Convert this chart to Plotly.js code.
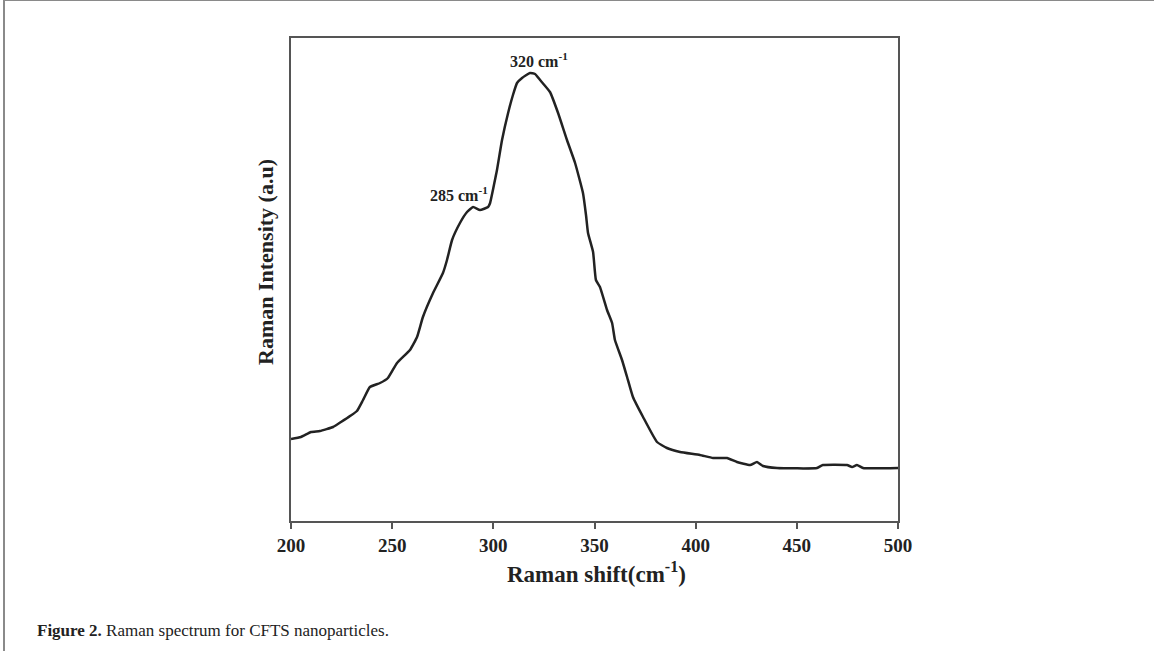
<!DOCTYPE html>
<html>
<head>
<meta charset="utf-8">
<script src="https://cdn.plot.ly/plotly-3.0.1.min.js"></script>
<style>
html,body{margin:0;padding:0;background:#fff;}
#wrap{position:relative;width:1154px;height:651px;overflow:hidden;}
#frame{position:absolute;left:3px;top:0;width:1151px;height:651px;border-left:2px solid #8a8a8a;border-top:1px solid #8a8a8a;box-sizing:border-box;pointer-events:none;z-index:5;}
#chart{position:absolute;left:0;top:0;width:1154px;height:651px;}
</style>
</head>
<body>
<div id="wrap">
<div id="chart"></div>
<div id="frame"></div>
</div>
<script>
// Raman shift (cm^-1)
const ramanShift = [200.0,204.9,209.9,214.3,220.8,224.7,229.2,232.6,235.6,239.0,244.0,247.9,252.4,258.8,262.3,265.2,270.2,275.1,277.1,279.6,283.5,287.0,290.0,293.4,297.4,298.4,299.8,300.8,301.8,304.3,307.3,309.7,311.7,314.2,318.1,320.6,323.1,328.0,332.0,336.4,340.4,344.3,345.8,346.8,349.3,350.7,352.7,356.2,358.7,360.1,363.6,366.1,369.0,374.0,380.9,385.8,392.3,402.1,408.6,415.5,420.4,426.9,430.3,433.3,440.2,460.0,462.9,474.8,477.3,479.7,482.7,500.0];
// Raman intensity (a.u)
const intensity = [82,84,89,90,94,99,105,110,121,134,138,143,158,171,184,204,228,248,261,281,298,309,314,311,314,318,331,341,351,381,408,426,438,443,448,447,441,429,408,381,358,328,306,288,269,241,234,211,198,181,161,144,124,104,79,73,69,66,63,63,59,56,59,55,53,53,56,56,54,56,53,53];
const xTickVals = [200,250,300,350,400,450,500];
const xTickText = ['200','250','300','350','400','450','500'];
const peakLabels = ['285 cm<sup>-1</sup>','320 cm<sup>-1</sup>'];
const peakX = [283, 322.8];
const peakY = [327, 461];

const L = 291, R = 898, T = 38, B = 521, W = 1154, H = 651;
const pw = R - L, ph = B - T;
const px = v => (v - L) / pw;
const py = v => (B - v) / ph;

const serif = 'Liberation Serif, Times New Roman, serif';

const annotations = peakLabels.map((t, i) => ({
  text: '<b>' + t + '</b>', x: peakX[i], y: peakY[i], xref: 'x', yref: 'y',
  showarrow: false, xanchor: 'center', yanchor: 'middle',
  font: {family: serif, size: 16, color: '#222'}
}));
annotations.push({
  text: '<b>Raman shift(cm<sup>-1</sup>)</b>', xref: 'paper', yref: 'paper',
  x: px(596), y: py(572), showarrow: false, xanchor: 'center', yanchor: 'middle',
  font: {family: serif, size: 23, color: '#222'}
});
annotations.push({
  text: '<b>Raman Intensity (a.u)</b>', xref: 'paper', yref: 'paper',
  x: px(265), y: py(262), showarrow: false, xanchor: 'center', yanchor: 'middle',
  textangle: -90, font: {family: serif, size: 22, color: '#222'}
});
annotations.push({
  text: '<b>Figure 2.</b> Raman spectrum for CFTS nanoparticles.', xref: 'paper', yref: 'paper',
  x: px(35), y: py(630), showarrow: false, xanchor: 'left', yanchor: 'middle',
  font: {family: serif, size: 17, color: '#222'}
});

Plotly.newPlot('chart', [{
  x: ramanShift, y: intensity, type: 'scatter', mode: 'lines',
  line: {color: '#222', width: 2.5, shape: 'spline', smoothing: 0.4},
  hoverinfo: 'skip'
}], {
  width: W, height: H,
  margin: {l: L, r: W - R, t: T, b: H - B, pad: 0},
  paper_bgcolor: '#fff', plot_bgcolor: '#fff',
  showlegend: false,
  xaxis: {
    range: [200, 500], tickvals: xTickVals, ticktext: xTickText,
    ticks: 'outside', ticklen: 6, tickwidth: 2, tickcolor: '#555',
    showline: true, linecolor: '#555', linewidth: 2, mirror: true,
    showgrid: false, zeroline: false,
    tickfont: {family: serif, size: 19, color: '#222', weight: 'bold'}
  },
  yaxis: {
    range: [0, 483], showticklabels: false, ticks: '',
    showline: true, linecolor: '#555', linewidth: 2, mirror: true,
    showgrid: false, zeroline: false
  },
  annotations: annotations
}, {displayModeBar: false, staticPlot: true});
</script>
</body>
</html>
